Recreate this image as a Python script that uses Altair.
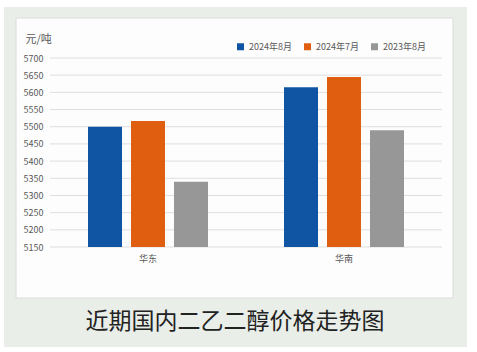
import altair as alt
import pandas as pd

regions = ["华东", "华南"]
series = ["2024年8月", "2024年7月", "2023年8月"]
values_2024_08 = [5500, 5615]
values_2024_07 = [5517, 5645]
values_2023_08 = [5340, 5490]
colors = ["#0f55a3", "#e05e10", "#979797"]
y_ticks = [5150, 5200, 5250, 5300, 5350, 5400, 5450, 5500, 5550, 5600, 5650, 5700]
y_unit = "元/吨"
chart_title = "近期国内二乙二醇价格走势图"

FONT = "Noto Sans CJK SC"

rows = []
for s, vals in zip(series, [values_2024_08, values_2024_07, values_2023_08]):
    for r, v in zip(regions, vals):
        rows.append({"region": r, "series": s, "value": v})
df = pd.DataFrame(rows)

one = pd.DataFrame({"k": [0]})
grid_df = pd.DataFrame({"tick": y_ticks})

# decorative frame (pixel offsets relative to the plot origin)
outer = alt.Chart(one).mark_rect(color="#e9eee8").encode(
    x=alt.value(-46), x2=alt.value(417), y=alt.value(-51), y2=alt.value(289)
)
panel = alt.Chart(one).mark_rect(fill="#fdfdfd", stroke="#dcdcdc", strokeWidth=1).encode(
    x=alt.value(-34), x2=alt.value(403), y=alt.value(-40), y2=alt.value(240)
)

yscale = alt.Scale(domain=[5150, 5700], nice=False, zero=False)
yaxis = alt.Axis(
    values=y_ticks, format="d", title=y_unit, titleAngle=0, titleX=-25, titleY=-19,
    titleAlign="left", titleBaseline="middle", titleFontSize=11,
    titleFontWeight="normal", titleColor="#595959", titleFont=FONT,
    domain=False, ticks=False, grid=False, labelFontSize=9,
    labelColor="#595959", labelPadding=7, labelFont=FONT, zindex=1,
)

grid = alt.Chart(grid_df).mark_rule(color="#dedede", strokeWidth=1).encode(
    y=alt.Y("tick:Q", scale=yscale, axis=yaxis)
)

bars = alt.Chart(df).mark_bar(clip=True).encode(
    x=alt.X(
        "region:N",
        sort=regions,
        scale=alt.Scale(paddingInner=0, paddingOuter=0),
        axis=alt.Axis(
            title=None, domain=False, ticks=False, grid=False, labelAngle=0,
            labelFontSize=9, labelColor="#595959", labelPadding=7, labelFont=FONT,
            zindex=1,
        ),
    ),
    xOffset=alt.XOffset(
        "series:N", sort=series,
        scale=alt.Scale(paddingInner=0.209, paddingOuter=0.884),
    ),
    y=alt.Y("value:Q", scale=yscale, axis=yaxis),
    color=alt.Color(
        "series:N",
        sort=series,
        scale=alt.Scale(domain=series, range=colors),
        legend=alt.Legend(
            title=None, orient="none", legendX=186, legendY=-16,
            direction="horizontal", symbolType="square", symbolSize=49,
            symbolStrokeWidth=0, labelFontSize=9, labelColor="#595959",
            labelFont=FONT, labelOffset=4, columnPadding=11, padding=0,
            zindex=1,
        ),
    ),
)

title_text = alt.Chart(pd.DataFrame({"t": [chart_title]})).mark_text(
    fontSize=23, font=FONT, color="#222222", align="center", baseline="middle"
).encode(text="t:N", x=alt.value(185), y=alt.value(264))

chart = alt.layer(outer, panel, grid, bars, title_text).properties(
    width=392,
    height=189,
    autosize=alt.AutoSizeParams(type="none"),
    padding={"left": 50, "top": 58, "right": 35, "bottom": 105},
    background="white",
).configure_view(stroke=None)

chart.save("out.html", embed_options={"renderer": "svg", "actions": False})
